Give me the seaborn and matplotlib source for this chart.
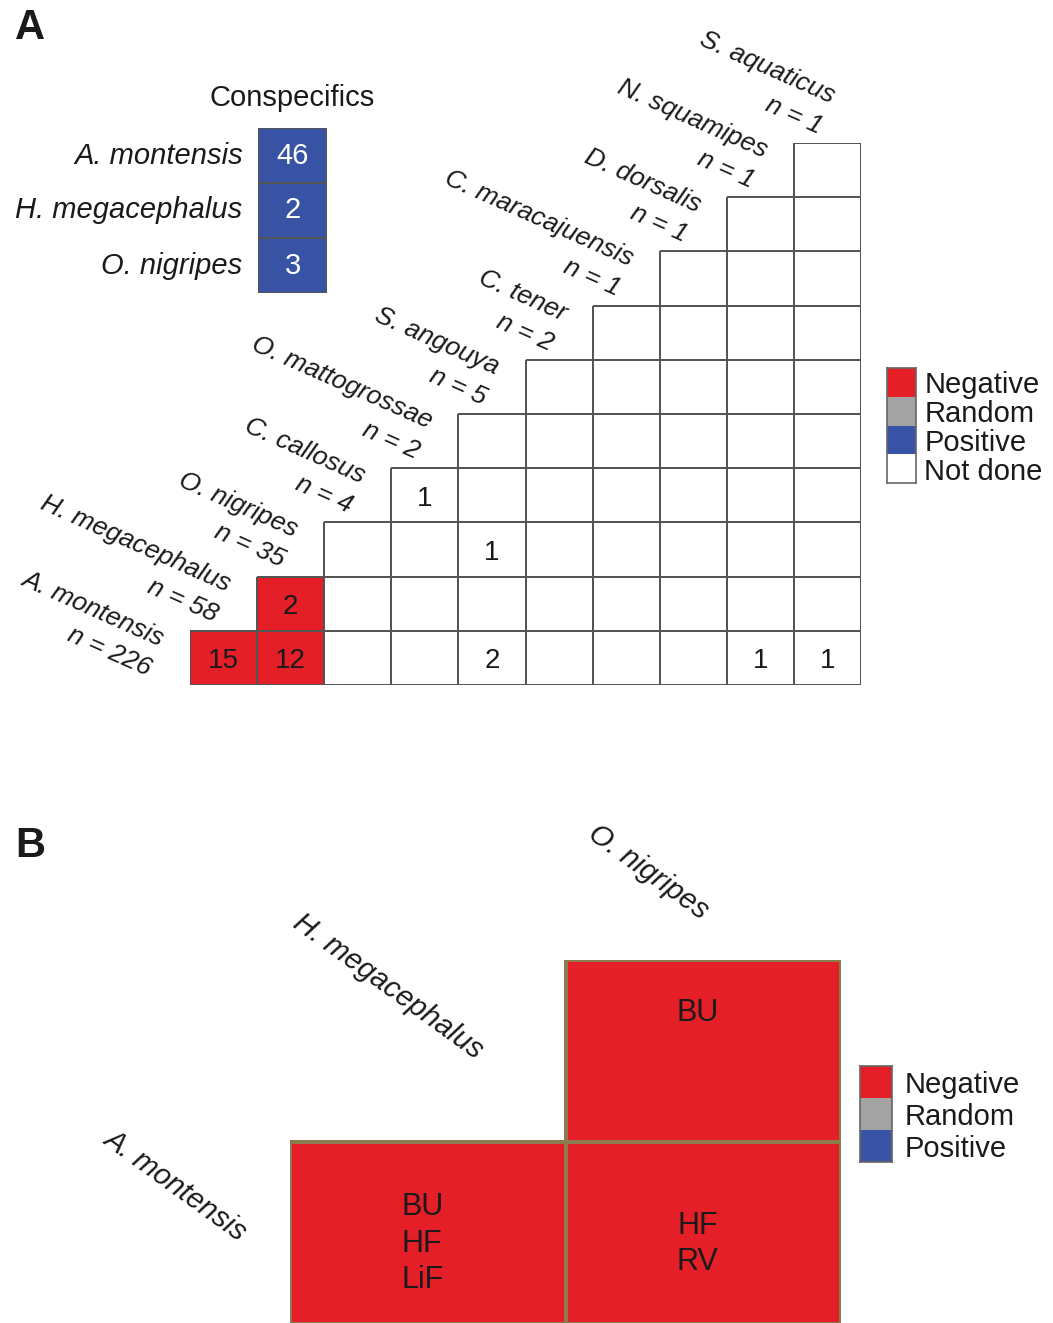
import numpy as np
import matplotlib
matplotlib.use("Agg")
import matplotlib.pyplot as plt
import seaborn as sns
from matplotlib.colors import ListedColormap, to_rgba

sns.set_theme(style="white")
plt.rcParams['font.family'] = ['Liberation Sans', 'DejaVu Sans']

# ---- data ----
species = ["A. montensis", "H. megacephalus", "O. nigripes", "C. callosus",
           "O. mattogrossae", "S. angouya", "C. tener", "C. maracajuensis",
           "D. dorsalis", "N. squamipes", "S. aquaticus"]
sample_n = [226, 58, 35, 4, 2, 5, 2, 1, 1, 1, 1]

# heterospecific pairs (index into species)
pair_sp1 = [0, 0, 1, 0, 2, 3, 0, 0]
pair_sp2 = [1, 2, 2, 5, 5, 4, 9, 10]
pair_count = [15, 12, 2, 2, 1, 1, 1, 1]
pair_result = ["Negative", "Negative", "Negative", "Not done",
               "Not done", "Not done", "Not done", "Not done"]

consp_species = ["A. montensis", "H. megacephalus", "O. nigripes"]
consp_count = [46, 2, 3]
consp_result = ["Positive", "Positive", "Positive"]

b_species = ["A. montensis", "H. megacephalus", "O. nigripes"]
b_sp1 = [0, 0, 1]
b_sp2 = [1, 2, 2]
b_traits = ["BU\nHF\nLiF", "HF\nRV", "BU"]
b_result = ["Negative", "Negative", "Negative"]

outcomes = ["Negative", "Random", "Positive", "Not done"]
outcome_colors = ["#E41F27", "#A3A3A3", "#3953A4", "#FFFFFF"]
cmap = ListedColormap(outcome_colors)

TXT = "#1a1a1a"
W, H = 1053, 1323


def box(x0, y0, x1, y1):
    # pixel box (top-left origin) -> figure fraction
    return [x0 / W, 1 - y1 / H, (x1 - x0) / W, (y1 - y0) / H]


def hide_masked_edges(ax, mask, color):
    # newer matplotlib still strokes masked quads, so blank their edges
    mesh = ax.collections[0]
    ec = np.array([to_rgba(color)] * mask.size)
    ec[mask.ravel()] = (0, 0, 0, 0)
    mesh.set_edgecolor(ec)


fig = plt.figure(figsize=(W / 100, H / 100), dpi=100)

# ================= panel A =================
n = len(species) - 1
codes = np.full((n, n), np.nan)
annot = np.full((n, n), "", dtype=object)
for i in range(n):
    for j in range(i + 1, n + 1):
        codes[n - 1 - i, j - 1] = outcomes.index("Not done")
for i, j, cnt, res in zip(pair_sp1, pair_sp2, pair_count, pair_result):
    codes[n - 1 - i, j - 1] = outcomes.index(res)
    annot[n - 1 - i, j - 1] = str(cnt)

ax = fig.add_axes(box(190, 143, 861, 685))
mask_a = np.isnan(codes)
sns.heatmap(codes, mask=mask_a, cmap=cmap, vmin=-0.5, vmax=3.5,
            cbar=False, linewidths=1.3, linecolor="#555555",
            annot=annot, fmt="", annot_kws={"color": TXT, "fontsize": 20},
            xticklabels=False, yticklabels=False, ax=ax)
hide_masked_edges(ax, mask_a, "#555555")
for t in ax.texts:
    x, y = t.get_position()
    t.set_position((x, y + 0.06))

# diagonal species labels (two lines, right aligned)
for k, (name, nn) in enumerate(zip(species, sample_n)):
    xy = (k - 0.45, n - 1 - k + 0.28)
    ax.annotate(name, xy=xy, xytext=(0, 0), textcoords="offset points",
                rotation=-24, rotation_mode="anchor", ha="right", va="baseline",
                fontsize=19, style="italic", color=TXT, annotation_clip=False)
    ax.annotate(f"n = {nn}", xy=xy, xytext=(-9.4, -21.6), textcoords="offset points",
                rotation=-24, rotation_mode="anchor", ha="right", va="baseline",
                fontsize=19, style="italic", color=TXT, annotation_clip=False)

# conspecifics column
axc = fig.add_axes(box(258, 128, 327, 293))
cc = np.array([[outcomes.index(r)] for r in consp_result], dtype=float)
sns.heatmap(cc, cmap=cmap, vmin=-0.5, vmax=3.5, cbar=False,
            linewidths=1.3, linecolor="#555555",
            annot=np.array([[str(v)] for v in consp_count], dtype=object), fmt="",
            annot_kws={"color": "white", "fontsize": 21},
            xticklabels=False, yticklabels=consp_species, ax=axc)
axc.tick_params(axis="y", length=0, pad=11, labelsize=21, rotation=0, labelcolor=TXT)
for t in axc.get_yticklabels():
    t.set_style("italic")
axc.text(0.5, -0.55, "Conspecifics", ha="center", va="center", fontsize=21, color=TXT)

# legend A
axl = fig.add_axes(box(887, 368, 916, 483))
sns.heatmap(np.arange(len(outcomes), dtype=float).reshape(-1, 1), cmap=cmap,
            vmin=-0.5, vmax=3.5, cbar=False, linewidths=0,
            xticklabels=False, yticklabels=outcomes, ax=axl)
axl.yaxis.tick_right()
axl.tick_params(axis="y", length=0, pad=6, labelsize=21, rotation=0, labelcolor=TXT)
for s in axl.spines.values():
    s.set_visible(True)
    s.set_color("#666666")
    s.set_linewidth(1.2)

fig.text(15 / W, 1 - 8 / H, "A", fontsize=30, weight="bold", va="top", color=TXT)

# ================= panel B =================
m = len(b_species) - 1
bcodes = np.full((m, m), np.nan)
for i, j, res in zip(b_sp1, b_sp2, b_result):
    bcodes[m - 1 - i, j - 1] = outcomes.index(res)

axb = fig.add_axes(box(290, 960, 841, 1324))
mask_b = np.isnan(bcodes)
sns.heatmap(bcodes, mask=mask_b, cmap=cmap, vmin=-0.5, vmax=3.5,
            cbar=False, linewidths=1.5, linecolor="#8C7B4E",
            xticklabels=False, yticklabels=False, ax=axb)
hide_masked_edges(axb, mask_b, "#8C7B4E")
b_text_y = [0.29, 0.56]
for i, j, txt in zip(b_sp1, b_sp2, b_traits):
    r = m - 1 - i
    axb.text(j - 1 + 0.48, r + b_text_y[r], txt, ha="center", va="center",
             fontsize=22, linespacing=1.28, color=TXT)

b_label_xy = [(-0.417, 1.236), (0.356, 0.148), (1.299, -0.484)]
for name, (x, y) in zip(b_species, b_label_xy):
    axb.text(x, y, name, rotation=-36, ha="center", va="center",
             fontsize=21, style="italic", color=TXT, clip_on=False)

# legend B
axlb = fig.add_axes(box(860, 1066, 892, 1162))
sns.heatmap(np.arange(3, dtype=float).reshape(-1, 1), cmap=cmap,
            vmin=-0.5, vmax=3.5, cbar=False, linewidths=0,
            xticklabels=False, yticklabels=outcomes[:3], ax=axlb)
axlb.yaxis.tick_right()
axlb.tick_params(axis="y", length=0, pad=9, labelsize=21, rotation=0, labelcolor=TXT)
for s in axlb.spines.values():
    s.set_visible(True)
    s.set_color("#666666")
    s.set_linewidth(1.2)

fig.text(15 / W, 1 - 826 / H, "B", fontsize=30, weight="bold", va="top", color=TXT)

fig.savefig("out.png", dpi=100, facecolor="white")
